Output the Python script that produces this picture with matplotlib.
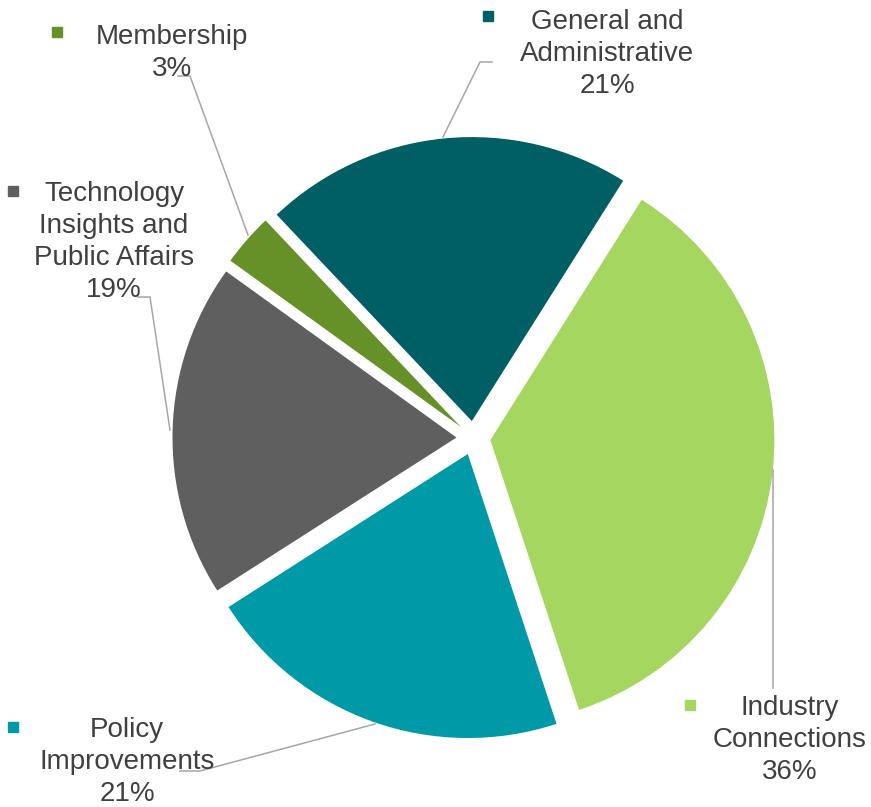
import matplotlib.pyplot as plt

W, H = 871, 807

categories = ["General and\nAdministrative", "Industry\nConnections", "Policy\nImprovements",
              "Technology\nInsights and\nPublic Affairs", "Membership"]
shares = [21, 36, 21, 19, 3]
colors = ["#005F65", "#A5D65F", "#0099A8", "#5F5F5F", "#659128"]

# label layout in pixel coords (top-left origin): text centre x, first line y, marker x/y
label_pos = [(607, 22, 488, 16), (790, 708, 690, 705), (127, 730, 13, 727),
             (114, 194, 13, 191), (172, 37, 57, 32)]
# leader lines (pixel coords)
leaders = [[(492, 62), (480, 62), (443, 137)],
           [(773, 688), (773, 470)],
           [(180, 771), (200, 771), (375, 724)],
           [(138, 297), (150, 297), (170, 430)],
           [(178, 76), (190, 76), (248, 235)]]

plt.rcParams['font.family'] = ['Liberation Sans', 'DejaVu Sans']
textColor = "#404040"
lineColor = "#A6A6A6"
lineH = 32

fig = plt.figure(figsize=(W/100, H/100), dpi=100)
ax = fig.add_axes([0, 0, 1, 1])

R = 284
# explode is in data units here (pixels), not a fraction of the radius
ax.pie(shares, colors=colors, startangle=133.4, counterclock=False,
       explode=[17]*len(shares), radius=R, center=(473.5, H-438),
       wedgeprops={'linewidth': 0}, frame=True)
ax.set_xlim(0, W)
ax.set_ylim(0, H)
ax.axis('off')

for pts in leaders:
    ax.plot([p[0] for p in pts], [H-p[1] for p in pts], color=lineColor, lw=1.1, zorder=1)

for cat, val, col, (tx, ty, mx, my) in zip(categories, shares, colors, label_pos):
    lines = cat.split("\n") + [f"{val}%"]
    for i, ln in enumerate(lines):
        ax.text(tx, H-(ty + i*lineH), ln, ha='center', va='center',
                fontsize=20, color=textColor, zorder=5)
    ax.plot([mx], [H-my], marker='s', markersize=7, color=col, lw=0, zorder=5)

fig.savefig("out.png", dpi=100)
